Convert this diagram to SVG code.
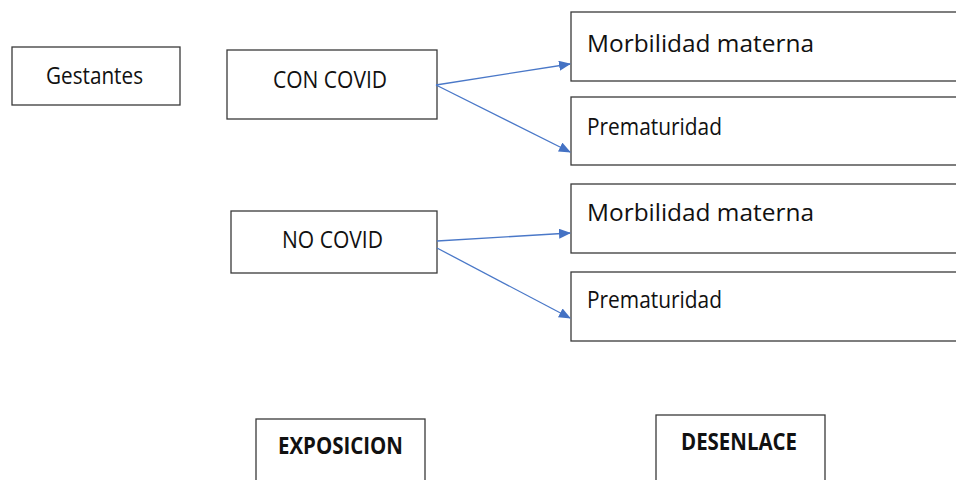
<svg xmlns="http://www.w3.org/2000/svg" width="956" height="480" viewBox="0 0 956 480">
<defs>
<style>
.box{fill:#fff;stroke:#3a3a3a;stroke-width:1.3}
.t{font-family:"Open Sans","Liberation Sans",sans-serif;font-size:23px;fill:#111}
.b{font-weight:bold}
.c{stroke:#4a78c8;stroke-width:1.3;fill:none;marker-end:url(#ah)}
</style>
<marker id="ah" markerWidth="12" markerHeight="10" refX="11" refY="5" orient="auto" markerUnits="userSpaceOnUse">
<path d="M0,0 L12,5 L0,10 Z" fill="#4472c4"/>
</marker>
</defs>
<rect width="956" height="480" fill="#fff"/>
<g id="gestantes"><rect class="box" x="12" y="47" width="168" height="58"/><text class="t" x="46" y="84" textLength="97" lengthAdjust="spacingAndGlyphs">Gestantes</text></g>
<g id="con-covid"><rect class="box" x="227" y="50" width="210" height="69"/><text class="t" x="273" y="88" textLength="114" lengthAdjust="spacingAndGlyphs">CON COVID</text></g>
<g id="morb1"><rect class="box" x="571" y="12" width="390" height="69"/><text class="t" x="587" y="52" textLength="227" lengthAdjust="spacingAndGlyphs">Morbilidad materna</text></g>
<g id="prem1"><rect class="box" x="571" y="97" width="390" height="68"/><text class="t" x="587" y="135" textLength="135" lengthAdjust="spacingAndGlyphs">Prematuridad</text></g>
<g id="no-covid"><rect class="box" x="231" y="211" width="206" height="62"/><text class="t" x="282" y="248" textLength="101" lengthAdjust="spacingAndGlyphs">NO COVID</text></g>
<g id="morb2"><rect class="box" x="571" y="184" width="390" height="69"/><text class="t" x="587" y="221" textLength="227" lengthAdjust="spacingAndGlyphs">Morbilidad materna</text></g>
<g id="prem2"><rect class="box" x="571" y="272" width="390" height="69"/><text class="t" x="587" y="308" textLength="135" lengthAdjust="spacingAndGlyphs">Prematuridad</text></g>
<g id="exposicion"><rect class="box" x="256" y="419" width="169" height="70"/><text class="t b" x="278" y="454" textLength="125" lengthAdjust="spacingAndGlyphs">EXPOSICION</text></g>
<g id="desenlace"><rect class="box" x="656" y="415" width="169" height="74"/><text class="t b" x="681" y="450" textLength="116" lengthAdjust="spacingAndGlyphs">DESENLACE</text></g>
<g id="connectors">
<line class="c" x1="436" y1="85" x2="570" y2="64"/>
<line class="c" x1="436" y1="85" x2="570" y2="152"/>
<line class="c" x1="437" y1="241" x2="570" y2="233"/>
<line class="c" x1="437" y1="248" x2="570" y2="318"/>
</g>
</svg>
